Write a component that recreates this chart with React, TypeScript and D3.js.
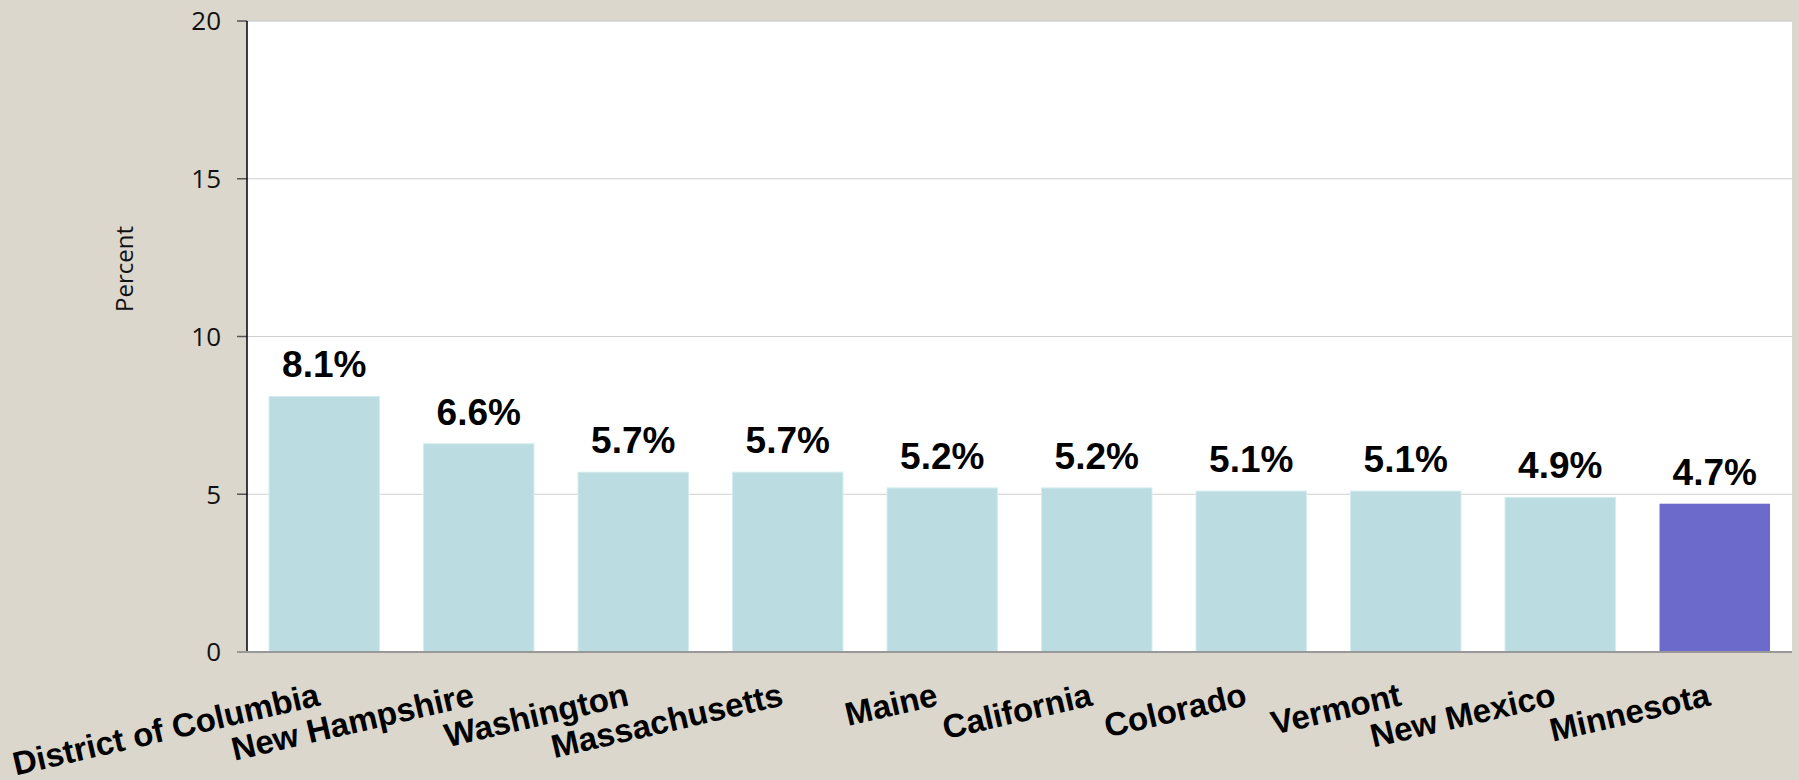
import React from "react";
import * as d3 from "d3";

const states = [
  "District of Columbia",
  "New Hampshire",
  "Washington",
  "Massachusetts",
  "Maine",
  "California",
  "Colorado",
  "Vermont",
  "New Mexico",
  "Minnesota",
];
const values = [8.1, 6.6, 5.7, 5.7, 5.2, 5.2, 5.1, 5.1, 4.9, 4.7];
const highlighted = ["Minnesota"];
const yTicks = [0, 5, 10, 15, 20];

const W = 1799;
const H = 780;
const plotLeft = 247;
const plotRight = 1792;
const plotTop = 21;
const plotBottom = 652;

export default function App() {
  const x = d3
    .scaleBand<string>()
    .domain(states)
    .range([plotLeft, plotRight])
    .paddingInner(0.285)
    .paddingOuter(0.1425);
  const y = d3.scaleLinear().domain([0, 20]).range([plotBottom, plotTop]);

  return (
    <svg
      width={W}
      height={H}
      style={{ position: "absolute", left: 0, top: 0, display: "block" }}
    >
      <rect x={0} y={0} width={W} height={H} fill="#dbd7cd" />
      <rect
        x={plotLeft}
        y={plotTop}
        width={plotRight - plotLeft}
        height={plotBottom - plotTop}
        fill="#ffffff"
      />
      {yTicks.map((t) => (
        <g key={t}>
          {t > 0 && (
            <line
              x1={plotLeft}
              x2={plotRight}
              y1={y(t)}
              y2={y(t)}
              stroke="#d0d0d0"
              strokeWidth={t === 20 ? 1.5 : 1}
            />
          )}
          <line
            x1={237}
            x2={plotLeft}
            y1={y(t)}
            y2={y(t)}
            stroke="#555"
            strokeWidth={1.5}
          />
          <text
            x={221}
            y={y(t)}
            dy="0.36em"
            textAnchor="end"
            fontFamily="'Open Sans', sans-serif"
            fontSize={26}
            fill="#111"
          >
            {t}
          </text>
        </g>
      ))}
      <text
        transform={`translate(133,269) rotate(-90)`}
        textAnchor="middle"
        fontFamily="'Open Sans', sans-serif"
        fontSize={24}
        fill="#111"
      >
        Percent
      </text>
      {states.map((s, i) => (
        <g key={s}>
          <rect
            x={x(s)!}
            y={y(values[i])}
            width={x.bandwidth()}
            height={y(0) - y(values[i])}
            fill={highlighted.includes(s) ? "#6c6bcc" : "#bbdde1"}
            stroke={highlighted.includes(s) ? "none" : "#d4ecee"}
            strokeWidth={1}
          />
          <text
            x={x(s)! + x.bandwidth() / 2}
            y={y(values[i]) - 19}
            textAnchor="middle"
            fontFamily="'Liberation Sans', Arial, sans-serif"
            fontWeight="bold"
            fontSize={37}
            fill="#000"
          >
            {values[i].toFixed(1)}%
          </text>
          <text
            transform={`translate(${x(s)! + x.bandwidth() / 2 - 3},705) rotate(-13)`}
            textAnchor="end"
            fontFamily="'Liberation Sans', Arial, sans-serif"
            fontWeight="bold"
            fontSize={33}
            fill="#000"
          >
            {s}
          </text>
        </g>
      ))}
      <line
        x1={plotLeft}
        x2={plotLeft}
        y1={plotTop}
        y2={plotBottom}
        stroke="#000"
        strokeWidth={1.5}
      />
      <line
        x1={237}
        x2={plotRight}
        y1={plotBottom}
        y2={plotBottom}
        stroke="#999"
        strokeWidth={2}
      />
    </svg>
  );
}
